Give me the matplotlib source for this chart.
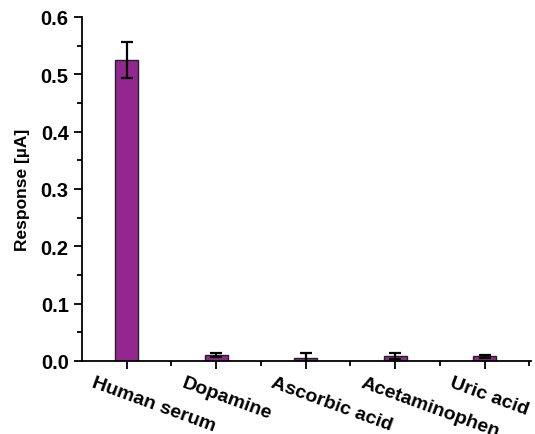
import numpy as np
import matplotlib.pyplot as plt
import matplotlib.transforms as mtransforms
from matplotlib.ticker import MultipleLocator, FixedLocator, FormatStrFormatter

plt.rcParams['font.family'] = ['Liberation Sans', 'DejaVu Sans']
plt.rcParams['font.weight'] = 'bold'

samples = ["Human serum", "Dopamine", "Ascorbic acid", "Acetaminophen", "Uric acid"]
response = [0.525, 0.010, 0.005, 0.009, 0.008]
error = [0.031, 0.003, 0.008, 0.005, 0.003]

fig = plt.figure(figsize=(5.35, 4.35), dpi=100)
ax = fig.add_axes([0.153, 0.168, 0.84, 0.791])

x = np.arange(len(samples))
ax.bar(x, response, width=0.26, color='#93278f', edgecolor='#222222', linewidth=1.0,
       yerr=error, capsize=4, error_kw=dict(elinewidth=1.6, capthick=1.6, ecolor='black'))

ax.set_xlim(-0.5, 4.52)
ax.set_ylim(0, 0.6)
ax.set_xticks(x)
ax.xaxis.set_minor_locator(FixedLocator(x + 0.5))
ax.yaxis.set_major_locator(MultipleLocator(0.1))
ax.yaxis.set_minor_locator(MultipleLocator(0.05))
ax.yaxis.set_major_formatter(FormatStrFormatter('%.1f'))
ax.tick_params(axis='y', labelsize=14.5)

ax.tick_params(which='major', length=6, width=1.3, direction='out')
ax.tick_params(which='minor', length=3.5, width=1.3, direction='out')
for s in ['top', 'right']:
    ax.spines[s].set_visible(False)
for s in ['left', 'bottom']:
    ax.spines[s].set_linewidth(1.3)

ax.set_xticklabels(samples, rotation=-20, ha='left', va='top', rotation_mode='anchor', fontsize=14)
# pull the slanted labels back so they start left of their tick
shift = mtransforms.ScaledTranslation(-0.31, 0.0, fig.dpi_scale_trans)
for lab in ax.get_xticklabels():
    lab.set_transform(lab.get_transform() + shift)

ax.set_ylabel("Response [µA]", fontsize=12.5, fontweight='bold', labelpad=8)

fig.savefig("out.png", dpi=100)
